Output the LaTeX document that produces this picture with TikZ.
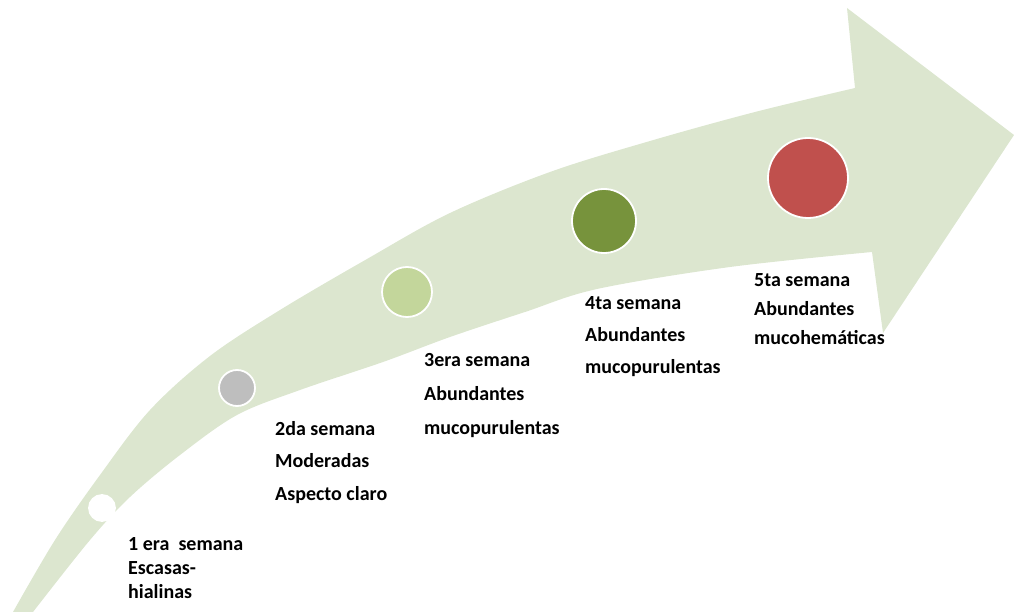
\documentclass[tikz,border=0pt]{standalone}
\usepackage{fontspec}
\setmainfont{Carlito}
\usepackage{tikz}
\definecolor{flechaverde}{RGB}{220,230,207}
\definecolor{gris}{RGB}{190,190,190}
\definecolor{verdeclaro}{RGB}{195,214,155}
\definecolor{verdeoscuro}{RGB}{119,147,60}
\definecolor{rojo}{RGB}{192,80,77}
\tikzstyle{flecha} = [fill=flechaverde, draw=none]
\tikzstyle{hito} = [circle, draw=white, line width=1.8pt, inner sep=0mm]
\tikzstyle{etiqueta} = [align=left, anchor=base west, inner sep=0mm]

\begin{document}
\begin{tikzpicture}[x=1pt, y=-1pt]
                \useasboundingbox (0, 0) rectangle (1014, 612);
                % curved arrow
                \fill[flecha] plot[smooth, tension=0.55] coordinates {(33, 612) (90, 540) (130, 497) (180, 455) (237, 415) (300, 390) (383, 362) (450, 337) (525, 312) (597, 289) (730, 267) (872, 252)}
                    -- (883, 333) -- (1014, 135) -- (847, 8) -- (855, 88)
                    -- plot[smooth, tension=0.55] coordinates {(855, 88) (755, 112) (650, 141) (550, 172) (450, 213) (367, 259) (280, 310) (210, 356) (150, 410) (100, 475) (55, 540) (13, 612)}
                    -- cycle;
                \foreach \n/\x/\y/\d/\c in {1/102/508/26/white, 2/237/388/36/gris, 3/407/292/50/verdeclaro, 4/604/221/64/verdeoscuro, 5/808/178/80/rojo} {
                    \node[hito, fill=\c, minimum size=\d pt] (s\n) at (\x, \y) {};
                }
                % y = baseline of the last line
                \foreach \n/\x/\y/\s/\txt in {1/128/598/24/{1 era~ semana\\Escasas-\\hialinas},
                                              2/275/500/32.5/{2da semana\\Moderadas\\Aspecto claro},
                                              3/424/434/34/{3era semana\\Abundantes\\mucopurulentas},
                                              4/585/373/32/{4ta semana\\Abundantes\\mucopurulentas},
                                              5/754/344/29/{5ta semana\\Abundantes\\mucohemáticas}} {
                    \node[etiqueta, font=\bfseries\fontsize{20}{\s}\selectfont] (t\n) at (\x, \y) {\txt};
                }
            \end{tikzpicture}
\end{document}
